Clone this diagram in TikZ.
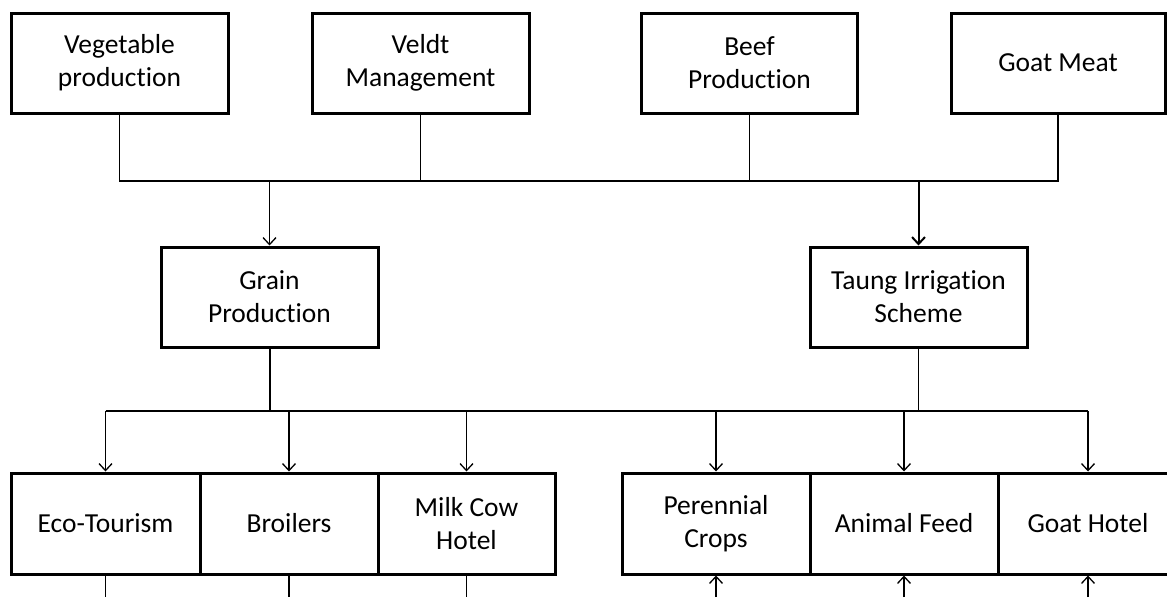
\documentclass[tikz,border=0pt]{standalone}
\usepackage{fontspec}
\setmainfont{Carlito}[RawFeature={-liga;-clig;-calt;-rlig;-dlig}]
\usetikzlibrary{arrows.meta}
\tikzset{>={Straight Barb[length=7pt,width=13pt]}}
\tikzset{
  box/.style={draw, line width=3pt, rectangle, align=center, inner sep=0pt,
    minimum height=100pt, font=\fontsize{27.5}{33}\selectfont},
  link/.style={line width=1.3pt},
  boldlink/.style={line width=2pt}
}

\begin{document}
\begin{tikzpicture}[x=1pt, y=-1pt]
    \useasboundingbox (0,0) rectangle (1167,597);
    % top row
    \node[box, minimum width=217pt] (veg) at (119.5,63) {Vegetable\\production};
    \node[box, minimum width=217pt] (veldt) at (420.5,63) {Veldt\\Management};
    \node[box, minimum width=216pt] (beef) at (749.5,63) {Beef\\Production};
    \node[box, minimum width=214pt] (goatmeat) at (1058,63) {Goat Meat};
    % middle row
    \node[box, minimum width=217pt] (grain) at (269.5,297) {Grain\\Production};
    \node[box, minimum width=217pt] (taung) at (918.5,297) {Taung Irrigation\\Scheme};
    % bottom row
    \node[box, minimum width=189pt, minimum height=101pt] (eco) at (105.5,523.5) {Eco-Tourism};
    \node[box, minimum width=178pt, minimum height=101pt] (broilers) at (289,523.5) {Broilers};
    \node[box, minimum width=177pt, minimum height=101pt] (milk) at (466.5,523.5) {Milk Cow\\Hotel};
    \node[box, minimum width=188pt, minimum height=101pt] (perennial) at (716,523.5) {Perennial\\Crops};
    \node[box, minimum width=188pt, minimum height=101pt] (animal) at (904,523.5) {Animal Feed};
    \node[box, minimum width=180pt, minimum height=101pt] (goathotel) at (1088,523.5) {Goat Hotel};

    \coordinate (topbus) at (0,181);
    \coordinate (botbus) at (0,411);
    \coordinate (edge) at (0,597);

    % upper bus
    \draw[link] (veg.south) -- (veg.south |- topbus) -- (grain.north |- topbus);
    \draw[boldlink] (grain.north |- topbus) -- (goatmeat.south |- topbus) -- (goatmeat.south);
    \draw[link] (veldt.south) -- (veldt.south |- topbus);
    \draw[link] (beef.south) -- (beef.south |- topbus);
    \draw[link, ->] (grain.north |- topbus) -- (grain.north);
    \draw[boldlink, ->] (taung.north |- topbus) -- (taung.north);

    % lower bus
    \draw[boldlink] (grain.south) -- (grain.south |- botbus);
    \draw[link] (taung.south) -- (taung.south |- botbus);
    \draw[boldlink] (eco.north |- botbus) -- (taung.south |- botbus);
    \draw[link] (taung.south |- botbus) -- (goathotel.north |- botbus);
    \foreach \n in {eco,broilers,milk,perennial,animal,goathotel}
        \draw[link, ->] (\n.north |- botbus) -- (\n.north);

    % below the bottom row
    \foreach \n in {eco,broilers,milk}
        \draw[link] (\n.south) -- (\n.south |- edge);
    \foreach \n in {perennial,animal,goathotel}
        \draw[link, ->] (\n.south |- edge) -- (\n.south);
\end{tikzpicture}
\end{document}
